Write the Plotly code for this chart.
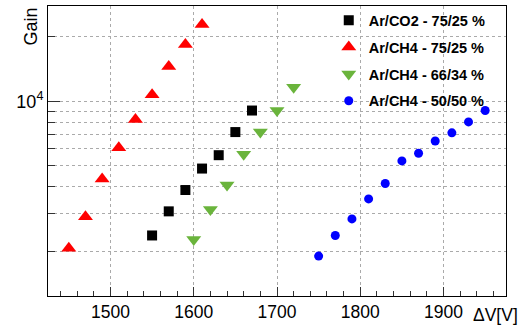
import plotly.graph_objects as go

# Data
v_co2_7525 = [1550, 1570, 1590, 1610, 1630, 1650, 1670]
g_co2_7525 = [2370, 3070, 3860, 4860, 5610, 7190, 9060]

v_ch4_7525 = [1450, 1470, 1490, 1510, 1530, 1550, 1570, 1590, 1610]
g_ch4_7525 = [2065, 2900, 4340, 6080, 8225, 10740, 14520, 18420, 22800]

v_ch4_6634 = [1600, 1620, 1640, 1660, 1680, 1700, 1720]
g_ch4_6634 = [2270, 3130, 4075, 5665, 7190, 9060, 11645]

v_ch4_5050 = [1750, 1770, 1790, 1810, 1830, 1850, 1870, 1890, 1910, 1930, 1950]
g_ch4_5050 = [1900, 2370, 2830, 3510, 4140, 5275, 5730, 6530, 7130, 8020, 9060]

names = ["Ar/CO2 - 75/25 %", "Ar/CH4 - 75/25 %", "Ar/CH4 - 66/34 %", "Ar/CH4 - 50/50 %"]
y_major = [10000]
y_minor = [2000, 3000, 4000, 5000, 6000, 7000, 8000, 9000, 20000]
x_major = [1500, 1600, 1700, 1800, 1900]

FONT = "Liberation Sans, Arial, sans-serif"

fig = go.Figure()
fig.add_trace(go.Scatter(x=v_co2_7525, y=g_co2_7525, mode="markers", name=names[0],
                         legendgroup="a",
                         marker=dict(symbol="square", size=10, color="black")))
fig.add_trace(go.Scatter(x=v_ch4_7525, y=g_ch4_7525, mode="markers", name=names[1],
                         legendgroup="b",
                         marker=dict(symbol="triangle-up", size=13, color="#ff0000")))
fig.add_trace(go.Scatter(x=v_ch4_6634, y=g_ch4_6634, mode="markers", name=names[2],
                         legendgroup="c",
                         marker=dict(symbol="triangle-down", size=13, color="#6ab43c")))
fig.add_trace(go.Scatter(x=v_ch4_5050, y=g_ch4_5050, mode="markers", name=names[3],
                         legendgroup="d",
                         marker=dict(symbol="circle", size=9, color="#0000ff")))

# white legend box (covers grid only)
fig.add_shape(type="rect", xref="x", yref="y", layer="below",
              x0=1770.5, x1=1923, y0=10250, y1=27800,
              fillcolor="white", line=dict(width=0))

fig.update_layout(
    width=523, height=331,
    margin=dict(l=48, r=17, t=4, b=35),
    paper_bgcolor="white", plot_bgcolor="white",
    font=dict(family=FONT, size=17.5, color="black"),
    showlegend=True,
    legend=dict(x=0.613, y=1.006, xanchor="left", yanchor="top",
                bgcolor="rgba(0,0,0,0)", borderwidth=0,
                font=dict(family=FONT, size=14.5, color="black", weight="bold"),
                tracegroupgap=5, itemwidth=30),
)

fig.update_xaxes(
    range=[1425, 1975], showline=True, linecolor="black", linewidth=1, mirror=True,
    tickmode="array", tickvals=x_major, ticks="inside", ticklen=9, tickcolor="#333",
    showgrid=True, gridcolor="#aaaaaa", griddash="dot", gridwidth=1,
    zeroline=False, tickfont=dict(size=17.5),
    minor=dict(dtick=20, tick0=1500, ticks="inside", ticklen=5, tickcolor="#333", showgrid=False),
)
fig.update_yaxes(
    type="log", range=[3.0926, 4.4444], showline=True, linecolor="black", linewidth=1, mirror=True,
    tickmode="array", tickvals=y_major, ticktext=["10<sup>4</sup>"],
    ticks="inside", ticklen=12, tickcolor="#333",
    showgrid=True, gridcolor="#aaaaaa", griddash="dot", gridwidth=1,
    zeroline=False, tickfont=dict(size=18),
    minor=dict(tickmode="array", tickvals=y_minor, ticks="inside", ticklen=7, tickcolor="#333",
               showgrid=True, gridcolor="#aaaaaa", griddash="dot", gridwidth=1),
)

fig.add_annotation(text="Gain", xref="paper", yref="paper", x=-0.038, y=1.0,
                   xanchor="center", yanchor="top", textangle=-90, showarrow=False,
                   font=dict(family=FONT, size=18))
fig.add_annotation(text="ΔV[V]", xref="paper", yref="paper", x=1.03, y=-0.025,
                   xanchor="right", yanchor="top", showarrow=False,
                   font=dict(family=FONT, size=17.5))

fig.write_html("out.html", config={"displayModeBar": False},
               post_script="document.body.style.margin='0px';")
